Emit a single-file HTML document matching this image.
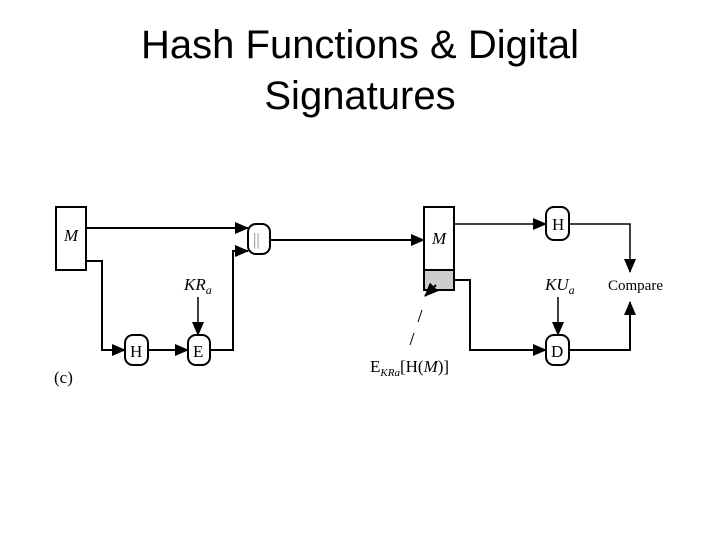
<!DOCTYPE html>
<html><head><style>
body{margin:0;width:720px;height:540px;background:#fff;overflow:hidden}
h1{position:absolute;top:20px;left:0;width:720px;text-align:center;margin:0;font:40px/51px "Liberation Sans",sans-serif;font-weight:normal;color:#000}
</style></head><body>
<h1>Hash Functions &amp; Digital<br>Signatures</h1>
<svg width="720" height="540" style="position:absolute;left:0;top:0" font-family="Liberation Serif" font-size="17">
<defs><marker id="b" markerWidth="14" markerHeight="12" refX="13" refY="6" orient="auto" markerUnits="userSpaceOnUse"><path d="M0,0L14,6L0,12z"/></marker></defs>
<g fill="none" stroke="#000" stroke-width="2">
<rect x="56" y="207" width="30" height="63" fill="#fff"/>
<path d="M86,228H248" marker-end="url(#b)"/>
<path d="M86,261H102V350H125" marker-end="url(#b)"/>
<path d="M148,350H188" marker-end="url(#b)"/>
<path d="M198,297V335" stroke-width="1.5" marker-end="url(#b)"/>
<path d="M210,350H233V251H248" marker-end="url(#b)"/>
<rect x="248" y="224" width="22" height="30" rx="8"/>
<rect x="125" y="335" width="23" height="30" rx="8"/>
<rect x="188" y="335" width="22" height="30" rx="8"/>
<path d="M270,240H424" marker-end="url(#b)"/>
<rect x="424" y="207" width="30" height="63"/>
<rect x="424" y="270" width="30" height="20" fill="#ccc"/>
<path d="M454,224H546" stroke-width="1.5" marker-end="url(#b)"/>
<path d="M569,224H630V272" stroke-width="1.5" marker-end="url(#b)"/>
<path d="M454,280H470V350H546" marker-end="url(#b)"/>
<path d="M569,350H630V302" marker-end="url(#b)"/>
<path d="M558,297V335" stroke-width="1.5" marker-end="url(#b)"/>
<rect x="546" y="207" width="23" height="33" rx="8"/>
<rect x="546" y="335" width="23" height="30" rx="8"/>
<path d="M436,285L425,296" marker-end="url(#b)"/>
<path d="M422,310L418,322M414,333L410,345" stroke-width="1"/>
</g>
<g fill="#000">
<text x="64" y="241" font-style="italic">M</text>
<text x="253" y="245" fill="#888">||</text>
<text x="130" y="357">H</text>
<text x="193" y="357">E</text>
<text x="184" y="290" font-style="italic">KR<tspan font-size="12" dy="4">a</tspan></text>
<text x="432" y="244" font-style="italic">M</text>
<text x="552" y="230">H</text>
<text x="551" y="357">D</text>
<text x="545" y="290" font-style="italic">KU<tspan font-size="12" dy="4">a</tspan></text>
<text x="608" y="290" font-size="15">Compare</text>
<text x="370" y="372">E<tspan font-size="11" dy="4" font-style="italic">KRa</tspan><tspan dy="-4">[H(</tspan><tspan font-style="italic">M</tspan>)]</text>
<text x="54" y="383">(c)</text>
</g>
</svg>
</body></html>
